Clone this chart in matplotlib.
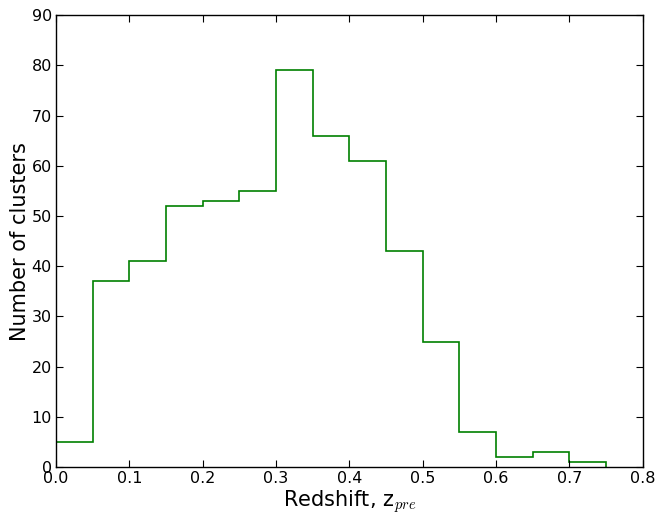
import matplotlib
matplotlib.use("Agg")
import matplotlib.pyplot as plt
import numpy as np

plt.rcParams["mathtext.fontset"] = "cm"

bin_edges = [0.0, 0.05, 0.1, 0.15, 0.2, 0.25, 0.3, 0.35, 0.4, 0.45, 0.5, 0.55, 0.6, 0.65, 0.7, 0.75]
counts = [5, 37, 41, 52, 53, 55, 79, 66, 61, 43, 25, 7, 2, 3, 1]

fig = plt.figure(figsize=(6.58, 5.18), dpi=100)
ax = fig.add_axes([0.085, 0.098, 0.892, 0.873])
ax.stairs(counts, bin_edges, color="#008000", linewidth=1.2)
ax.set_xlim(0, 0.8)
ax.set_ylim(0, 90)
ax.set_xticks(np.arange(0, 0.81, 0.1))
ax.set_yticks(np.arange(0, 91, 10))
ax.tick_params(direction="in", top=True, right=True, labelsize=11.5, length=5, pad=3)
for s in ax.spines.values():
    s.set_linewidth(1.0)
ax.set_xlabel(r"Redshift, z$_{pre}$", fontsize=15, labelpad=1)
ax.set_ylabel("Number of clusters", fontsize=15, labelpad=1)
fig.savefig("out.png", dpi=100)
